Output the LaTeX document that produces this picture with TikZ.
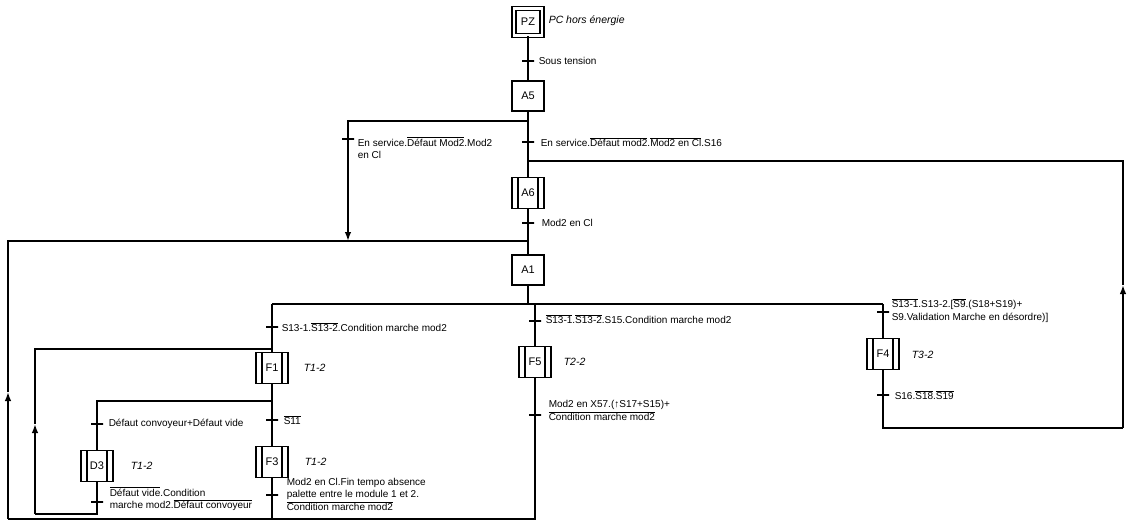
\documentclass[tikz,border=0pt]{standalone}
\usepackage{fontspec}
\setmainfont{Liberation Sans}
\usetikzlibrary{arrows.meta}
\newcommand\ovl[1]{\ensuremath{\overline{\mbox{#1}}}}
\begin{document}
\begin{tikzpicture}[x=1pt,y=-1pt,line width=1.5pt,
  every node/.style={font=\fontsize{10}{12.8}\selectfont},
  stepbox/.style={draw,line width=1.5pt,minimum width=32pt,minimum height=30pt,inner sep=0pt,font=\fontsize{11}{12}\selectfont},
  macrobox/.style={stepbox,minimum height=31pt,path picture={
      \draw[line width=1.1pt] ([xshift=6pt]path picture bounding box.north west) -- ([xshift=6pt]path picture bounding box.south west);
      \draw[line width=1.1pt] ([xshift=-6pt]path picture bounding box.north east) -- ([xshift=-6pt]path picture bounding box.south east);}},
  initbox/.style={stepbox,minimum width=28pt,minimum height=27pt,double,double distance=2.5pt,line width=1.3pt},
  trans/.style={draw,line width=1.5pt,minimum width=12pt,minimum height=0pt,inner sep=0pt,outer sep=0pt},
  lbl/.style={inner sep=0pt,anchor=west},
  mlbl/.style={inner sep=0pt,anchor=north west,align=left},
  ital/.style={inner sep=0pt,anchor=west,font=\fontsize{10.5}{12}\selectfont\itshape},
  arr/.style={-{Latex[length=9pt,width=6.5pt]}}]
\useasboundingbox (0,0) rectangle (1127,524);
\fill[white] (0,0) rectangle (1127,524);

% main column
\node[initbox] (PZ) at (528,22) {PZ};
\node[ital] (lPZ) at (548,21) {PC hors énergie};
\node[stepbox] (A5) at (528,96) {A5};
\node[macrobox] (A6) at (528,193) {A6};
\node[stepbox] (A1) at (528,270) {A1};

\coordinate (j1) at (528,121);
\coordinate (j1l) at (348,121);
\coordinate (j2) at (528,161);
\coordinate (j3) at (528,241);
\coordinate (j3l) at (348,241);
\coordinate (j4) at (528,304);

% branch steps
\node[macrobox] (F1) at (272,368) {F1};
\node[ital] (lF1) at (303,368) {T1-2};
\node[macrobox] (F3) at (272,462) {F3};
\node[ital] (lF3) at (304,462) {T1-2};
\node[macrobox] (D3) at (97,466) {D3};
\node[ital] (lD3) at (130,466) {T1-2};
\node[macrobox] (F5) at (535,362) {F5};
\node[ital] (lF5) at (563,362) {T2-2};
\node[macrobox] (F4) at (883,354) {F4};
\node[ital] (lF4) at (911,355) {T3-2};

\coordinate (j4l) at (272,304);
\coordinate (j4m) at (535,304);
\coordinate (j4r) at (883,304);
\coordinate (j5) at (272,349);
\coordinate (j5l) at (35,349);
\coordinate (ai) at (35,424);
\coordinate (d3b) at (97,514);
\coordinate (d3bl) at (35,514);
\coordinate (j6) at (272,401);
\coordinate (j6l) at (97,401);
\coordinate (b1) at (272,519);
\coordinate (b2) at (535,519);
\coordinate (bw) at (8,519);
\coordinate (aw) at (8,392);
\coordinate (jw) at (8,241);
\coordinate (r1) at (883,428);
\coordinate (r2) at (1123,428);
\coordinate (ar) at (1123,285);
\coordinate (r3) at (1123,161);

% connectors
\draw (PZ) -- (A5);
\draw (A5) -- (A6);
\draw[arr] (j1) -- (j1l) -- (j3l);
\draw (A6) -- (A1);
\draw (A1) -- (j4);
\draw (j4l) -- (j4r);
\draw (j4l) -- (F1);
\draw (j4m) -- (F5);
\draw (j4r) -- (F4);
\draw (F1) -- (F3);
\draw (j6) -- (j6l) -- (D3);
\draw (D3) -- (d3b) -- (d3bl);
\draw[arr] (d3bl) -- (ai);
\draw (ai) -- (j5l) -- (j5);
\draw (F3) -- (b1);
\draw (F5) -- (b2) -- (bw);
\draw[arr] (bw) -- (aw);
\draw (aw) -- (jw) -- (j3);
\draw (F4) -- (r1) -- (r2);
\draw[arr] (r2) -- (ar);
\draw (ar) -- (r3) -- (j2);

% transitions
\node[trans] (t0) at (528,61) {};
\node[lbl] (l0) at (538,61) {Sous tension};
\node[trans] (t1) at (348,139) {};
\node[mlbl] (l1) at (357,136) {En service.\ovl{Défaut Mod2}.Mod2\\en Cl};
\node[trans] (t2) at (528,142) {};
\node[lbl] (l2) at (540,142) {En service.\ovl{Défaut mod2}.\ovl{Mod2 en Cl}.S16};
\node[trans] (t3) at (528,223) {};
\node[lbl] (l3) at (541,223) {Mod2 en Cl};
\node[trans] (t4) at (272,327) {};
\node[lbl] (l4) at (281,327) {S13-1.\ovl{S13-2}.Condition marche mod2};
\node[trans] (t5) at (97,424) {};
\node[lbl] (l5) at (108,424) {Défaut convoyeur+Défaut vide};
\node[trans] (t6) at (97,502) {};
\node[mlbl] (l6) at (109,486) {\ovl{Défaut vide}.Condition\\marche mod2.\ovl{Défaut convoyeur}};
\node[trans] (t7) at (272,420) {};
\node[lbl] (l7) at (283,420) {\ovl{S11}};
\node[trans] (t8) at (272,495) {};
\node[mlbl] (l8) at (286,477) {Mod2 en Cl.Fin tempo absence\\palette entre le module 1 et 2.\\\ovl{Condition marche mod2}};
\node[trans] (t9) at (535,321) {};
\node[lbl] (l9) at (545,319) {\ovl{S13-1}.\ovl{S13-2}.S15.Condition marche mod2};
\node[trans] (t10) at (535,415) {};
\node[mlbl] (l10) at (548,400) {Mod2 en X57.(↑S17+S15)+\\\ovl{Condition marche mod2}};
\node[trans] (t11) at (883,312) {};
\node[mlbl] (l11) at (891,298) {\ovl{S13-1}.S13-2.[\ovl{S9}.(S18+S19)+\\S9.Validation Marche en désordre)]};
\node[trans] (t12) at (883,395) {};
\node[lbl] (l12) at (894,395) {S16.\ovl{S18}.\ovl{S19}};
\end{tikzpicture}
\end{document}
